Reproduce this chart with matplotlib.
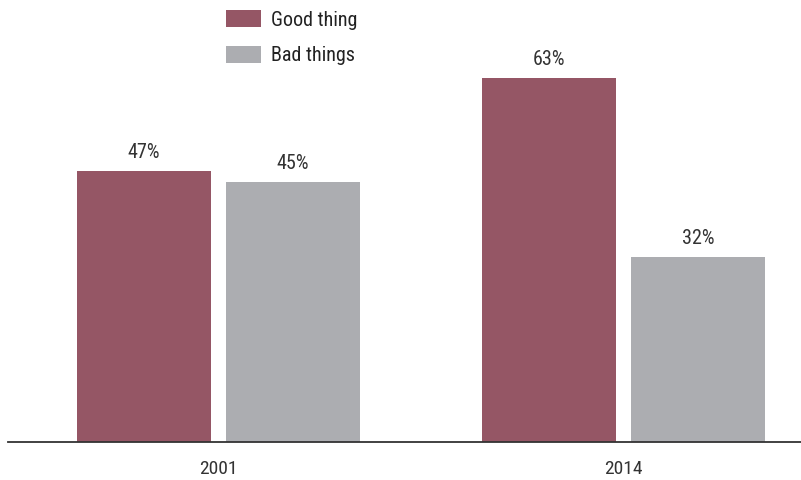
import matplotlib
matplotlib.use("Agg")
import matplotlib.pyplot as plt
from matplotlib import font_manager
import numpy as np

years = ["2001", "2014"]
good = [47, 63]
bad = [45, 32]
series_names = ["Good thing", "Bad things"]
colors = ["#955665", "#acadb1"]

names = {f.name for f in font_manager.fontManager.ttflist}
fam = [f for f in ["Roboto Condensed", "Liberation Sans Narrow", "DejaVu Sans Condensed"] if f in names] + ["DejaVu Sans"]
plt.rcParams['font.family'] = fam

W, H = 801, 480
fig = plt.figure(figsize=(W/100, H/100), dpi=100)
ax = fig.add_axes([8/W, (H-442)/H, 1-8/W, 442/H])

x = np.arange(len(years))
bw = 134/405
off = 74.5/405
b1 = ax.bar(x - off, good, bw, color=colors[0], label=series_names[0])
b2 = ax.bar(x + off, bad, bw, color=colors[1], label=series_names[1])

for bars, vals in [(b1, good), (b2, bad)]:
    for r, v in zip(bars, vals):
        ax.annotate(f"{v}%", (r.get_x() + r.get_width()/2, v), xytext=(0, 6.5),
                    textcoords="offset points", ha="center", va="bottom",
                    fontsize=14.5, color="#333333")

ax.set_xlim((8-218.5)/405, (801-218.5)/405)
ax.set_ylim(0, 442/5.77)
ax.set_xticks(x)
ax.set_xticklabels(years, fontsize=14, color="#333333")
ax.tick_params(axis='x', length=0, pad=13)
ax.set_yticks([])
for s in ["top", "right", "left"]:
    ax.spines[s].set_visible(False)
ax.spines["bottom"].set_color("#333333")
ax.spines["bottom"].set_linewidth(1.3)

leg = fig.legend(handles=[b1, b2], loc="upper left", bbox_to_anchor=(226/W, 1 - 10.5/H),
                 frameon=False, fontsize=14.5, handlelength=1.75, handleheight=0.88,
                 labelspacing=0.82, handletextpad=0.5, borderaxespad=0, borderpad=0)
for t in leg.get_texts():
    t.set_color("#222222")

fig.savefig("out.png", dpi=100)
